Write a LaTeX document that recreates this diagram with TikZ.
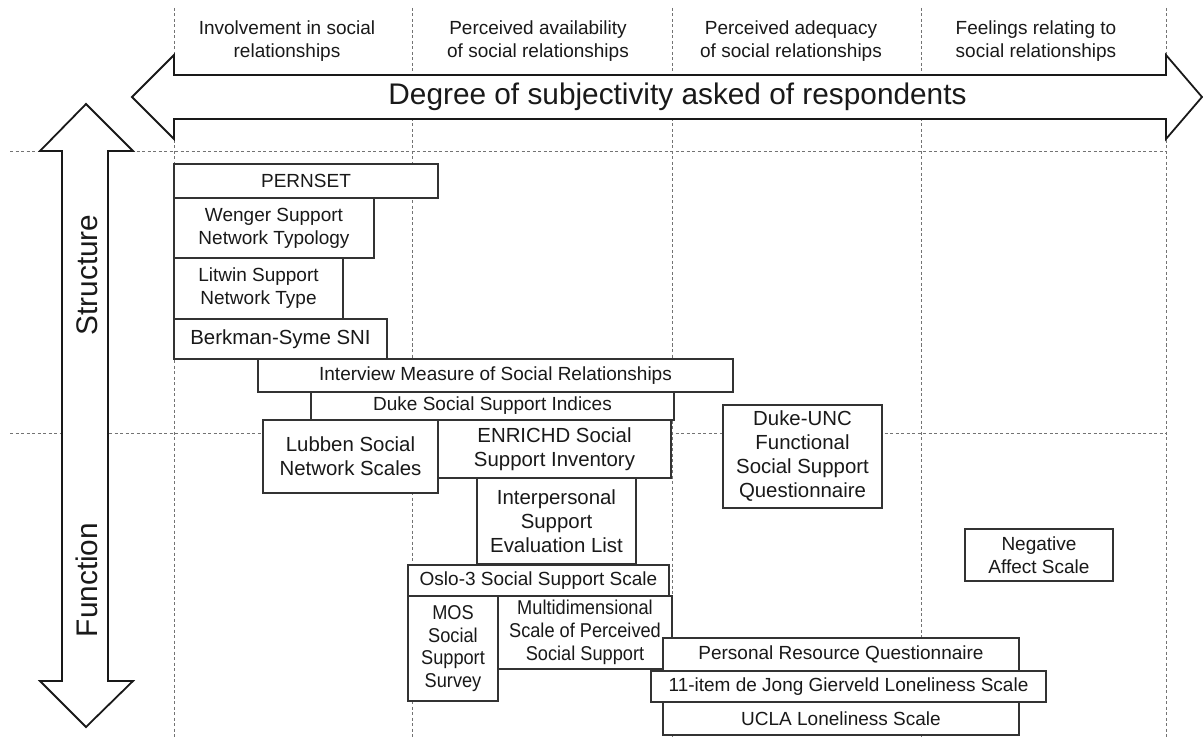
\documentclass[tikz,border=0pt]{standalone}
\usepackage{fontspec}
\setmainfont{Liberation Sans}
\newfontfamily\narrowfont[FakeStretch=0.91]{Liberation Sans}
\begin{document}
\begin{tikzpicture}[x=1pt,y=-1pt,
  grid/.style={draw=black!55,line width=0.8pt,dash pattern=on 3pt off 2.5pt},
  bigarrow/.style={draw=black!90,fill=white,line width=1.8pt,line join=miter},
  box/.style={draw=black!80,fill=white,line width=1.4pt,inner sep=0pt,outer sep=0pt,align=center,text=black!90},
  f19/.style={font=\fontsize{19}{23}\selectfont},
  f20/.style={font=\fontsize{20.4}{24}\selectfont},
  fn/.style={font=\narrowfont\fontsize{20}{22.8}\selectfont},
  hdr/.style={font=\fontsize{19}{23}\selectfont,align=center,inner sep=0pt,text=black!90},
  big/.style={font=\fontsize{29.8}{34}\selectfont,inner sep=0pt,text=black!90}]
\useasboundingbox (0,0) rectangle (1203,738);
% grid
\foreach \x in {174,412,672,921,1166} \draw[grid] (\x,8) -- (\x,738);
\draw[grid] (10,151) -- (1166,151);
\draw[grid] (10,433) -- (1166,433);
% header labels
\node[hdr] (h1) at (287,41.5) {Involvement in social\\relationships};
\node[hdr] (h2) at (538,41.5) {Perceived availability\\of social relationships};
\node[hdr] (h3) at (791,41.5) {Perceived adequacy\\of social relationships};
\node[hdr] (h4) at (1036,41.5) {Feelings relating to\\social relationships};
% horizontal double arrow
\draw[bigarrow] (132,97) -- (174,55) -- (174,75) -- (1166,75) -- (1166,55) -- (1202,97)
  -- (1166,139) -- (1166,119) -- (174,119) -- (174,139) -- cycle;
\node[big] (subj) at (677.5,97) {Degree of subjectivity asked of respondents};
% vertical double arrow
\draw[bigarrow] (86,104) -- (133,151) -- (108,151) -- (108,681) -- (133,681) -- (86,727)
  -- (40,681) -- (62,681) -- (62,151) -- (40,151) -- cycle;
\node[big,rotate=90,anchor=base] (struct) at (97,275) {Structure};
\node[big,rotate=90,anchor=base] (func) at (97,580) {Function};
% boxes
\node[box,f19,minimum width=264pt,minimum height=34pt] (pernset) at (306,181) {PERNSET};
\node[box,f19,minimum width=200pt,minimum height=60pt] (wenger) at (274,228) {Wenger Support\\Network Typology};
\node[box,f19,minimum width=169pt,minimum height=61pt] (litwin) at (258.5,288.5) {Litwin Support\\Network Type};
\node[box,f20,minimum width=213pt,minimum height=40pt] (berkman) at (280.5,339) {Berkman-Syme SNI};
\node[box,f19,minimum width=475pt,minimum height=33pt] (interview) at (495.5,375.5) {Interview Measure of Social Relationships};
\node[box,f19,minimum width=363pt,minimum height=28pt] (dukeidx) at (492.5,406) {Duke Social Support Indices};
\node[box,f20,minimum width=175pt,minimum height=73pt] (lubben) at (350.5,456.5) {Lubben Social\\Network Scales};
\node[box,f20,minimum width=233pt,minimum height=58pt] (enrichd) at (554.5,449) {ENRICHD Social\\Support Inventory};
\node[box,f20,minimum width=159pt,minimum height=86pt] (isel) at (556.5,521) {Interpersonal\\Support\\Evaluation List};
\node[box,f19,minimum width=261pt,minimum height=31pt] (oslo) at (538.5,580.5) {Oslo-3 Social Support Scale};
\node[box,fn,minimum width=90pt,minimum height=105pt] (mos) at (453,648.5) {MOS\\Social\\Support\\Survey};
\node[box,fn,minimum width=174pt,minimum height=73pt] (mspss) at (585,632.5) {Multidimensional\\Scale of Perceived\\Social Support};
\node[box,f20,minimum width=159pt,minimum height=103pt] (dukeunc) at (802.5,456.5) {Duke-UNC\\Functional\\Social Support\\Questionnaire};
\node[box,f19,minimum width=148pt,minimum height=52pt] (negaff) at (1039,555) {Negative\\Affect Scale};
\node[box,f19,minimum width=356pt,minimum height=33pt] (prq) at (841,654.5) {Personal Resource Questionnaire};
\node[box,f19,minimum width=356pt,minimum height=33pt] (ucla) at (841,718.5) {UCLA Loneliness Scale};
\node[box,f19,minimum width=395pt,minimum height=31pt] (jong) at (848.5,686.5) {11-item de Jong Gierveld Loneliness Scale};
\end{tikzpicture}
\end{document}
